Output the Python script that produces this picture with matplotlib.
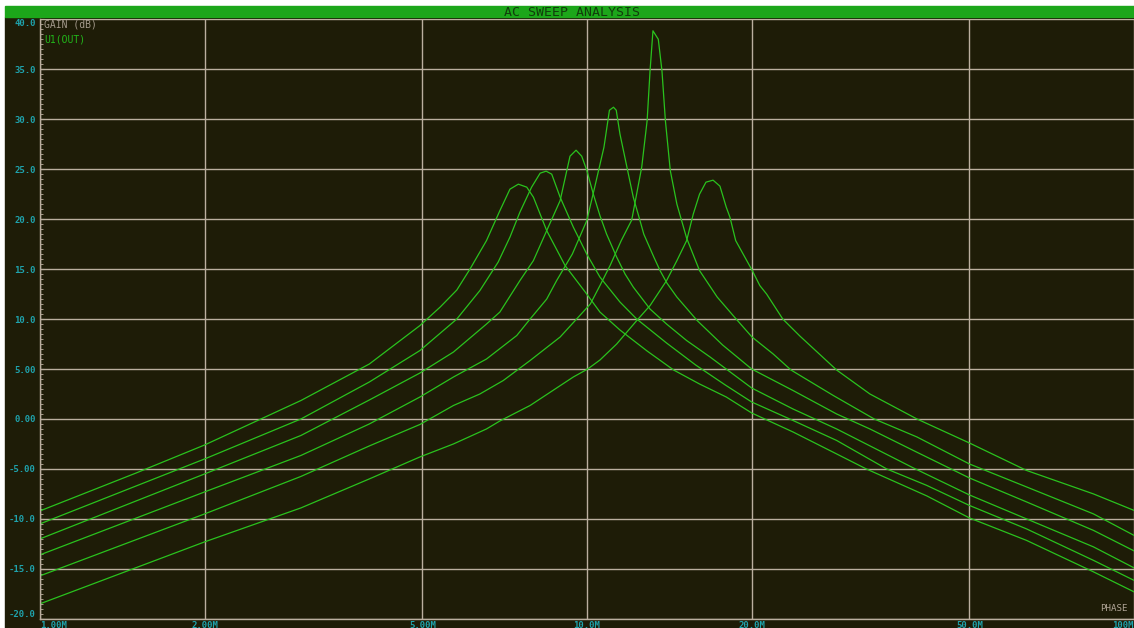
import matplotlib
matplotlib.use('Agg')
import matplotlib.pyplot as plt
from matplotlib.patches import Rectangle
from matplotlib.ticker import MultipleLocator, NullLocator

# frequency in MHz, gain in dB -- six traces of U1(OUT)
freq_a = [1, 1.5, 2, 3, 4, 4.95, 5.39, 5.78, 6.11, 6.55, 6.93, 7.23, 7.49, 7.76, 7.98,
          8.44, 9.12, 9.99, 10.56, 11.49, 12.88, 14.4, 16.06, 17.97, 20.0, 23.8,
          28.6, 32.4, 41.8, 50, 63.6, 84.3, 100]
gain_a = [-9.2, -5.4, -2.6, 1.85, 5.5, 9.35, 11.2, 12.9, 15.0, 17.85, 20.85, 23.0, 23.5,
          23.2, 22.2, 18.85, 15.35, 12.5, 10.7, 8.9, 6.8, 4.9, 3.5, 2.2, 0.6, -1.3,
          -3.5, -5.0, -7.7, -9.9, -12.15, -15.3, -17.3]

freq_b = [1, 2, 3, 4, 4.95, 5.78, 6.37, 6.88, 7.23, 7.54, 7.92, 8.21, 8.42, 8.62, 8.93,
          9.44, 9.99, 10.56, 11.49, 12.33, 13.98, 15.8, 17.9, 20.0, 23.8, 28.6, 35.3,
          41.8, 50, 63.6, 84.3, 100]
gain_b = [-10.5, -4.0, 0.0, 3.7, 6.85, 10.0, 12.85, 15.7, 18.2, 20.7, 23.2, 24.6, 24.8,
          24.5, 22.2, 19.2, 16.5, 14.2, 11.7, 10.0, 7.6, 5.4, 3.4, 1.7, -0.15, -2.15,
          -5.0, -6.65, -8.65, -11.0, -14.15, -16.15]

freq_c = [1, 2, 3, 4, 4.95, 5.70, 6.55, 6.93, 7.54, 7.98, 8.44, 8.93, 9.31, 9.55, 9.78,
          9.99, 10.27, 10.56, 10.86, 11.33, 11.74, 12.15, 13.04, 13.98, 15.21, 16.79,
          20.0, 23.8, 28.6, 39.5, 50, 63.6, 84.3, 100]
gain_c = [-12.0, -5.5, -1.65, 1.9, 4.6, 6.7, 9.5, 10.7, 13.85, 15.85, 18.85, 21.85, 26.3,
          26.9, 26.3, 24.9, 22.5, 20.35, 18.5, 16.2, 14.5, 13.2, 11.0, 9.5, 7.85, 6.2,
          3.1, 1.0, -1.0, -4.9, -7.6, -10.0, -12.8, -14.9]

freq_d = [1, 2, 3, 4, 4.95, 5.70, 6.55, 7.44, 7.87, 8.44, 8.80, 9.4, 9.99, 10.33, 10.74,
          10.99, 11.18, 11.31, 11.49, 11.82, 12.15, 12.5, 12.7, 13.25, 13.6, 14.0, 14.6,
          15.9, 17.7, 20.0, 23.8, 28.6, 32.9, 40, 50, 63.6, 84.3, 100]
gain_d = [-13.6, -7.3, -3.65, -0.5, 2.2, 4.2, 6.0, 8.35, 10.0, 12.0, 13.85, 16.5, 19.85,
          23.2, 27.2, 30.9, 31.2, 30.9, 28.5, 25.3, 22.2, 19.85, 18.5, 16.2, 14.85, 13.6,
          12.2, 9.85, 7.4, 5.0, 2.85, 0.5, -1.0, -3.3, -5.9, -8.3, -11.15, -13.2]

freq_e = [1, 2, 3, 4, 4.95, 5.70, 6.37, 7.03, 7.87, 8.93, 9.57, 10.14, 10.56, 11.03,
          11.55, 12.07, 12.59, 12.88, 13.04, 13.2, 13.5, 13.71, 13.91, 14.2, 14.6, 15.21,
          16.06, 17.3, 18.6, 20.03, 21.9, 23.6, 28.2, 33.5, 40.1, 50, 63.6, 84.3, 100]
gain_e = [-15.7, -9.5, -5.75, -2.7, -0.55, 1.35, 2.5, 3.85, 5.85, 8.2, 10.0, 11.5, 13.35,
          15.4, 17.85, 19.9, 25.2, 29.85, 34.85, 38.85, 38.0, 34.85, 29.85, 24.85, 21.5,
          18.1, 14.85, 12.2, 10.2, 8.2, 6.5, 4.9, 2.35, 0.0, -1.8, -4.5, -6.8, -9.5, -11.65]

freq_f = [1, 2, 3, 4, 4.95, 5.70, 6.55, 6.93, 7.87, 9.44, 10.03, 10.56, 11.33, 12.33,
          13.04, 13.98, 14.6, 15.21, 15.64, 16.06, 16.5, 17.0, 17.5, 17.97, 18.25, 18.7,
          20.03, 20.7, 21.3, 22.8, 24.5, 28.6, 32.9, 40.1, 50, 63.6, 84.3, 100]
gain_f = [-18.5, -12.3, -8.9, -6.0, -3.8, -2.5, -1.0, -0.2, 1.35, 4.2, 5.0, 5.9, 7.5, 9.85,
          11.35, 13.85, 15.85, 17.85, 20.5, 22.5, 23.7, 23.9, 23.3, 21.2, 20.2, 17.85,
          14.9, 13.35, 12.5, 10.0, 8.3, 4.9, 2.5, 0.0, -2.4, -5.15, -7.5, -9.15]

x_ticks = [1, 2, 5, 10, 20, 50, 100]
x_labels = ['1.00M', '2.00M', '5.00M', '10.0M', '20.0M', '50.0M', '100M']
y_ticks = [-20, -15, -10, -5, 0, 5, 10, 15, 20, 25, 30, 35, 40]
y_labels = ['-20.0', '-15.0', '-10.0', '-5.00', '0.00', '5.00', '10.0', '15.0', '20.0',
            '25.0', '30.0', '35.0', '40.0']

bg = '#1e1c07'
grid_col = '#bbaf9f'
trace_col = '#2ac21e'
label_col = '#1fa3ad'
mono = 'DejaVu Sans Mono'

W, H = 1134, 628
fig = plt.figure(figsize=(W / 100, H / 100), dpi=100)
fig.patch.set_facecolor('white')

# dark screen + green title bar
fig.add_artist(Rectangle((5 / W, 0), 1, (H - 17) / H, transform=fig.transFigure,
                         color=bg, zorder=-2))
fig.add_artist(Rectangle((5 / W, (H - 17) / H), 1, 10.5 / H, transform=fig.transFigure,
                         color='#1ca61a', zorder=-2))
fig.text(572 / W, (H - 12) / H, 'AC SWEEP ANALYSIS', ha='center', va='center',
         family=mono, fontsize=9.5, color='#123d0c')

ax = fig.add_axes([40 / W, (H - 618.8) / H, 1094 / W, 599.5 / H])
ax.set_facecolor(bg)

for fr, g in [(freq_a, gain_a), (freq_b, gain_b), (freq_c, gain_c),
              (freq_d, gain_d), (freq_e, gain_e), (freq_f, gain_f)]:
    ax.plot(fr, g, color=trace_col, lw=0.9)

ax.set_xscale('log')
ax.set_xlim(1, 100)
ax.set_ylim(-20, 40)

ax.set_xticks(x_ticks)
ax.set_xticklabels(x_labels)
ax.xaxis.set_minor_locator(NullLocator())
ax.set_yticks(y_ticks)
ax.set_yticklabels(y_labels)
ax.yaxis.set_minor_locator(MultipleLocator(0.5))

ax.grid(True, which='major', color=grid_col, lw=1.0)
ax.tick_params(axis='x', length=0, pad=1.5, labelsize=6.5, labelcolor=label_col)
ax.tick_params(axis='y', which='major', direction='in', length=3, pad=3,
               labelsize=6.5, labelcolor=label_col, color=grid_col)
ax.tick_params(axis='y', which='minor', direction='in', length=2, color=grid_col)
for lab in ax.get_xticklabels() + ax.get_yticklabels():
    lab.set_family(mono)
    lab.set_fontweight('bold')
xl = ax.get_xticklabels()
xl[0].set_ha('left')
xl[-1].set_ha('right')
yl = ax.get_yticklabels()
yl[0].set_va('bottom')
yl[-1].set_va('top')

for s in ['top', 'right']:
    ax.spines[s].set_visible(False)
for s in ['left', 'bottom']:
    ax.spines[s].set_color(grid_col)
    ax.spines[s].set_linewidth(1.0)

fig.text(44 / W, (H - 24.7) / H, 'GAIN (dB)', ha='left', va='center', family=mono,
         fontsize=7, color='#a49a8c')
fig.text(44 / W, (H - 39) / H, 'U1(OUT)', ha='left', va='center', family=mono,
         fontsize=7, color='#22b81a')
fig.text(1128 / W, (H - 608.7) / H, 'PHASE', ha='right', va='center', family=mono,
         fontsize=6.6, color='#b0a496')

fig.savefig('out.png', dpi=100, facecolor=fig.get_facecolor())
